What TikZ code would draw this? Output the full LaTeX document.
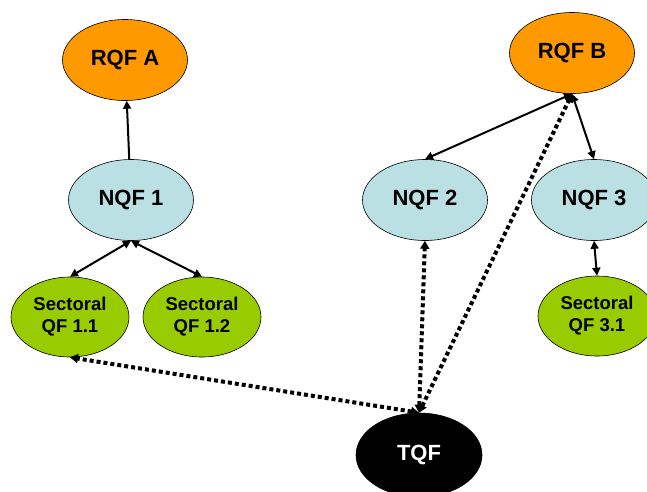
\documentclass[tikz,border=0pt]{standalone}
\usepackage{fontspec}
\setmainfont{Liberation Sans}
\usetikzlibrary{shapes.geometric,arrows.meta}
\definecolor{rqfc}{HTML}{FF9900}
\definecolor{nqfc}{HTML}{BBE0E3}
\definecolor{sqfc}{HTML}{99CC00}
\tikzset{
  qf/.style={ellipse,draw=black,line width=0.6pt,inner sep=0pt,minimum width=125pt,minimum height=81pt,font=\fontsize{22}{26}\selectfont\bfseries,align=center},
  rqf/.style={qf,fill=rqfc},
  nqf/.style={qf,fill=nqfc},
  sqf/.style={qf,fill=sqfc,minimum width=118pt,minimum height=80pt,font=\fontsize{18.5}{22}\selectfont\bfseries},
  tqf/.style={qf,fill=black,text=white,minimum width=126pt,minimum height=84pt},
  link/.style={line width=2pt,{Triangle[length=8pt,width=8pt]}-{Triangle[length=8pt,width=8pt]}},
  uplink/.style={line width=2pt,-{Triangle[length=8pt,width=8pt]}},
  dotlink/.style={line width=4pt,dash pattern=on 4pt off 3pt,{Triangle[length=8pt,width=9pt]}-{Triangle[length=8pt,width=9pt]}}
}
\begin{document}
\begin{tikzpicture}[x=1pt,y=-1pt]
\useasboundingbox (0,0) rectangle (647,491);
\begin{scope}
\clip (0,0) rectangle (647,491);
\node[rqf] (rqfa) at (125,60) {RQF A};
\node[rqf] (rqfb) at (572,53) {RQF B};
\node[nqf] (nqf1) at (131,200) {NQF 1};
\node[nqf] (nqf2) at (425,200) {NQF 2};
\node[nqf] (nqf3) at (594,200) {NQF 3};
\node[sqf] (s11) at (70,317) {Sectoral\\QF 1.1};
\node[sqf] (s12) at (202,317) {Sectoral\\QF 1.2};
\node[sqf] (s31) at (597,316) {Sectoral\\QF 3.1};
\node[tqf] (tqf) at (419,455) {TQF};
\end{scope}
\draw[uplink] (nqf1) -- (rqfa);
\draw[link] (nqf1.south) -- (s11.north);
\draw[link] (nqf1.south) -- (s12.north);
\draw[link] (rqfb.south) -- (nqf2.north);
\draw[link] (rqfb.south) -- (nqf3.north);
\draw[link] (nqf3.south) -- (s31.north);
\draw[dotlink] (tqf.north) -- (s11.south);
\draw[dotlink] (tqf.north) -- (nqf2.south);
\draw[dotlink] (tqf.north) -- (rqfb.south);
\end{tikzpicture}
\end{document}
